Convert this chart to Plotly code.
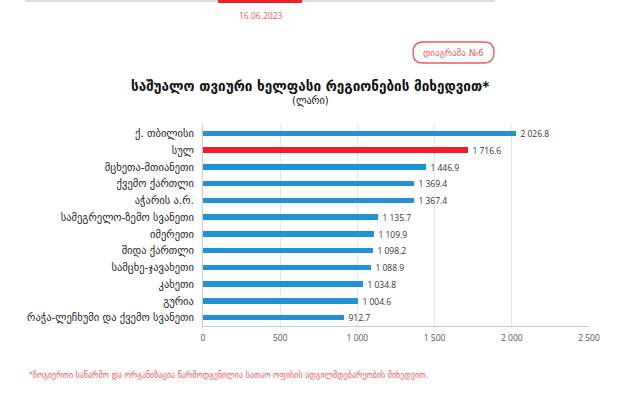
import plotly.graph_objects as go

regions = ["ქ. თბილისი", "სულ", "მცხეთა-მთიანეთი", "ქვემო ქართლი", "აჭარის ა.რ.",
           "სამეგრელო-ზემო სვანეთი", "იმერეთი", "შიდა ქართლი", "სამცხე-ჯავახეთი",
           "კახეთი", "გურია", "რაჭა-ლეჩხუმი და ქვემო სვანეთი"]
values = [2026.8, 1716.6, 1446.9, 1369.4, 1367.4, 1135.7, 1109.9, 1098.2, 1088.9,
          1034.8, 1004.6, 912.7]
highlight = "სულ"
tick_vals = [0, 500, 1000, 1500, 2000, 2500]

W, H = 622, 395
L, R, T, B = 203, 589, 125, 326

def xp(px):
    return (px - L) / (R - L)

def yp(py):
    return (B - py) / (B - T)

BLUE = "#1f93d3"
RED = "#ee1f25"
PINK = "#ec5a62"
FONT = "Open Sans, DejaVu Sans, sans-serif"
GEO = "DejaVu Sans, sans-serif"

colors = [RED if r == highlight else BLUE for r in regions]

fig = go.Figure(go.Bar(
    x=values, y=regions, orientation="h",
    marker=dict(color=colors, line=dict(width=0)),
    width=0.34,
    texttemplate="\u00a0\u00a0%{x:,.1f}", textposition="outside",
    constraintext="none",
    textfont=dict(family=FONT, size=8.5, color="#333"),
    cliponaxis=False,
    hoverinfo="skip",
))

fig.update_layout(
    width=W, height=H,
    margin=dict(l=L, r=W - R, t=T, b=H - B, pad=0),
    paper_bgcolor="white", plot_bgcolor="white",
    separators=". ",
    showlegend=False,
    bargap=0,
    xaxis=dict(range=[0, 2500], tickvals=tick_vals, tickformat=",d",
               showgrid=True, gridcolor="#e6e6e6", gridwidth=1,
               zeroline=False, showline=True, linecolor="#cccccc", linewidth=1,
               tickfont=dict(family=FONT, size=8.5, color="#555"), ticks="",
               ticklabelstandoff=4),
    yaxis=dict(autorange="reversed", showline=True, linecolor="#cccccc", linewidth=1,
               tickfont=dict(family=GEO, size=10.5, color="#222"), ticks="",
               ticklabelstandoff=6),
)

shapes = [
    dict(type="line", xref="paper", yref="paper", x0=xp(25), x1=xp(495), y0=yp(1), y1=yp(1),
         line=dict(color="#dddddd", width=2)),
    dict(type="line", xref="paper", yref="paper", x0=xp(218), x1=xp(302), y0=yp(1), y1=yp(1),
         line=dict(color=RED, width=4)),
]
# rounded button
x0, x1, y0, y1, r = 413, 494, 42, 63, 10
path = (f"M {xp(x0 + r)} {yp(y0)} L {xp(x1 - r)} {yp(y0)} "
        f"Q {xp(x1)} {yp(y0)} {xp(x1)} {yp(y0 + r)} "
        f"Q {xp(x1)} {yp(y1)} {xp(x1 - r)} {yp(y1)} "
        f"L {xp(x0 + r)} {yp(y1)} "
        f"Q {xp(x0)} {yp(y1)} {xp(x0)} {yp(y1 - r)} "
        f"Q {xp(x0)} {yp(y0)} {xp(x0 + r)} {yp(y0)} Z")
shapes.append(dict(type="path", xref="paper", yref="paper", path=path,
                   line=dict(color=PINK, width=1.3), fillcolor="white"))
fig.update_layout(shapes=shapes)

ann = [
    dict(text="16.06.2023", x=xp(260), y=yp(16), font=dict(family=FONT, size=8.5, color=PINK)),
    dict(text="დიაგრამა №6", x=xp(453.5), y=yp(52.5), font=dict(family=GEO, size=9, color=PINK)),
    dict(text="<b>საშუალო თვიური ხელფასი რეგიონების მიხედვით*</b>", x=xp(310), y=yp(86),
         font=dict(family=GEO, size=13.5, color="#111")),
    dict(text="(ლარი)", x=xp(310), y=yp(101), font=dict(family=GEO, size=10, color="#111")),
    dict(text="*ზოგიერთი საწარმო და ორგანიზაცია წარმოდგენილია სათაო ოფისის ადგილმდებარეობის მიხედვით.",
         x=xp(27), y=yp(375), xanchor="left", font=dict(family=GEO, size=8, color=PINK)),
]
for a in ann:
    a.setdefault("xanchor", "center")
    a.update(xref="paper", yref="paper", yanchor="middle", showarrow=False)
fig.update_layout(annotations=ann)

fig.write_html("out.html", config={"displayModeBar": False},
               post_script="document.body.style.margin='0';")
